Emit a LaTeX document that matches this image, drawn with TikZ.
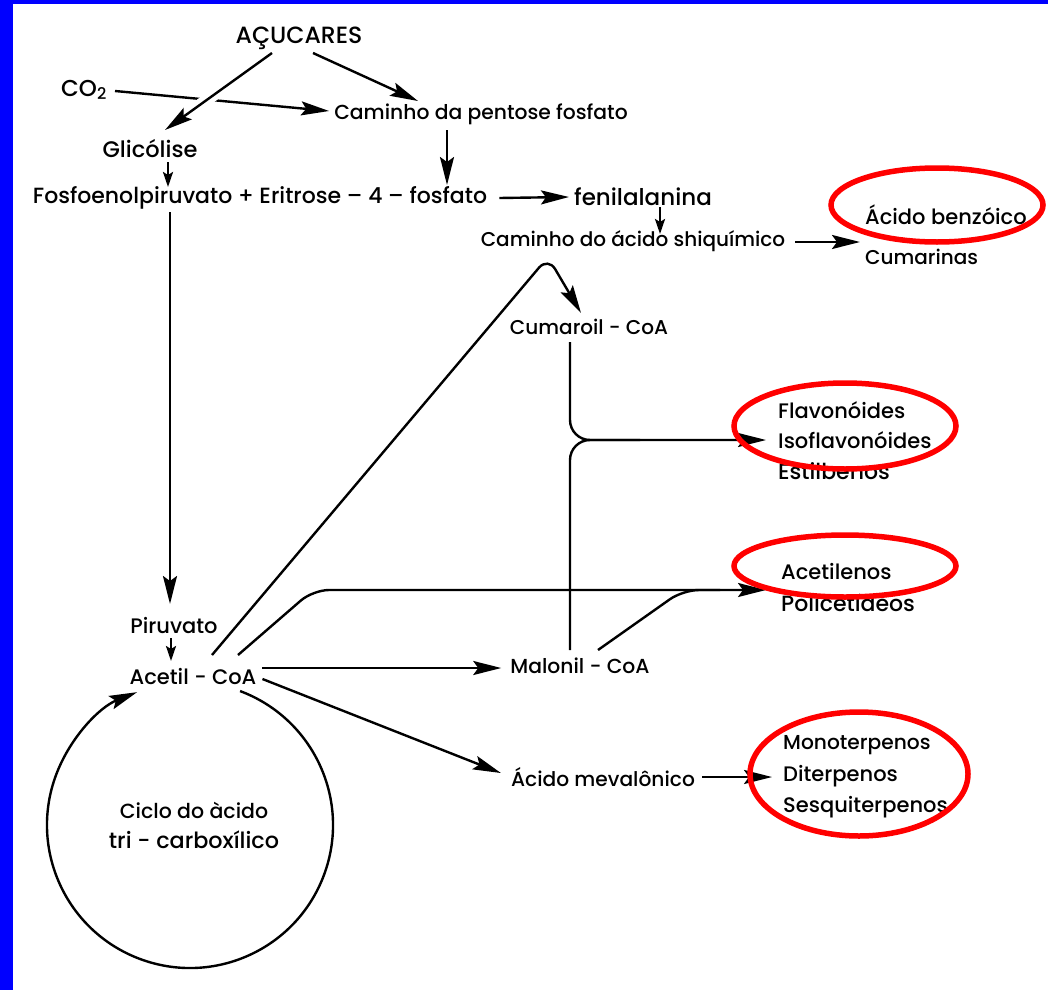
\documentclass[tikz,border=0pt]{standalone}
\usepackage{fontspec}
\setmainfont{Poppins}[UprightFont={* Medium}]
\usetikzlibrary{arrows.meta,calc}
\tikzset{
  lab/.style={font=\fontsize{21}{24}\selectfont, inner sep=0pt, text=black},
  fsz/.style={font=\fontsize{#1}{#1}\selectfont},
  ln/.style={draw=black, line width=2.4pt},
  arr/.style={ln, -{Stealth[length=28pt,width=14pt,inset=5pt]}},
  sarr/.style={ln, -{Stealth[length=15pt,width=10pt,inset=3pt]}},
  ring/.style={draw=red, line width=5.5pt},
}
\begin{document}
\begin{tikzpicture}[x=1pt,y=-1pt]
\useasboundingbox (0,0) rectangle (1048,990);
\fill[white] (0,0) rectangle (1048,990);
\fill[blue] (0,0) rectangle (13,990);
\fill[blue] (0,0) rectangle (1048,4);

% nodes
\node[lab,fsz=23.5] (acu) at (299,38) {AÇUCARES};
\node[lab,fsz=23] (co2) at (84,90) {CO\textsubscript{2}};
\node[lab,fsz=20.3] (pent) at (481,114) {Caminho da pentose fosfato};
\node[lab,fsz=22.5] (glic) at (150,149) {Glicólise};
\node[lab,fsz=22] (fosfo) at (260,198) {Fosfoenolpiruvato + Eritrose – 4 – fosfato};
\node[lab,fsz=23] (fenil) at (643,197) {fenilalanina};
\node[lab,fsz=20] (shiq) at (633,241) {Caminho do ácido shiquímico};
\node[lab,anchor=west] (benz) at (865,215) {Ácido benzóico};
\node[lab,fsz=20,anchor=west] (cum) at (865,257) {Cumarinas};
\node[lab,fsz=20] (cumar) at (589,327) {Cumaroil - CoA};
\node[lab,anchor=west] (flav) at (778,410) {Flavonóides};
\node[lab,anchor=west] (iso) at (778,440) {Isoflavonóides};
\node[lab,fsz=22,anchor=west] (est) at (778,471) {Estilbenos};
\node[lab,anchor=west] (acet) at (781,572) {Acetilenos};
\node[lab,fsz=22,anchor=west] (poli) at (781,603) {Policetídeos};
\node[lab] (pir) at (174,625) {Piruvato};
\node[lab] (acoa) at (193,676) {Acetil - CoA};
\node[lab,fsz=20.3] (mcoa) at (580,666) {Malonil - CoA};
\node[lab,fsz=20.2] (mev) at (603,777) {Ácido mevalônico};
\node[lab,fsz=20.2,anchor=west] (mono) at (783,745) {Monoterpenos};
\node[lab,anchor=west] (dit) at (783,776) {Diterpenos};
\node[lab,anchor=west] (ses) at (783,807) {Sesquiterpenos};
\node[lab,fsz=20.5] (cic1) at (194,810) {Ciclo do àcido};
\node[lab,fsz=22.3] (cic2) at (194,840) {tri - carboxílico};
\coordinate (cyc) at (190,825);

% connectors
\coordinate (a1) at ($(acu)+(-27,15)$);
\coordinate (g1) at ($(glic)+(15,-19)$);
\draw[arr] ($(co2.east)+(8,1)$) -- ($(pent.west)+(-5,-3)$);
\draw[white, line width=12pt] ($(a1)!0.5!(g1)$) -- ($(a1)!0.7!(g1)$);
\draw[arr] (a1) -- (g1);
\draw[arr] ($(acu)+(14,15)$) -- ($(pent)+(-63,-13)$);
\draw[sarr] ($(glic)+(18,13)$) -- ($(fosfo)+(-92,-11)$);
\draw[arr] ($(pent)+(-34,16)$) -- ($(fosfo)+(187,-13)$);
\draw[arr] ($(fosfo.east)+(12,0)$) -- ($(fenil.west)+(-5,0)$);
\draw[sarr] ($(fenil)+(17,10)$) -- ($(shiq)+(27,-7)$);
\draw[arr] ($(shiq.east)+(10,1)$) -- ($(cum.west)+(-5,-15)$);
\draw[arr] ($(fosfo)+(-90,14)$) -- ($(pir)+(-4,-21)$);
\draw[sarr] ($(pir)+(-3,13)$) -- ($(acoa)+(-22,-15)$);
\draw[arr, rounded corners=14pt] ($(acoa)+(19,-21)$) -- (548,257) -- ($(cumar)+(-8,-14)$);
\draw[arr, rounded corners=20pt] ($(cumar)+(-19,15)$) -- (570,440) -- ($(iso.west)+(-12,0)$);
\draw[ln, rounded corners=20pt] ($(mcoa)+(-10,-16)$) -- (570,440) -- (640,440);
\draw[arr, rounded corners=16pt] ($(acoa)+(45,-21)$) -- (313,590) -- ($(acet.west)+(-15,18)$);
\draw[ln, rounded corners=16pt] ($(mcoa)+(18,-16)$) -- (683,590) -- (720,590);
\draw[arr] ($(acoa.east)+(6,-8)$) -- ($(mcoa.west)+(-9,2)$);
\draw[arr] ($(acoa.east)+(6,3)$) -- ($(mev.west)+(-10,-4)$);
\draw[arr] ($(mev.east)+(7,0)$) -- ($(dit.west)+(-11,1)$);
\draw[arr] (cyc) ++(-69.5:143) arc[start angle=-69.5, end angle=248.3, radius=143];

% red marks
\draw[ring] (937,205) ellipse[x radius=106, y radius=37];
\draw[ring] (845,426) ellipse[x radius=111, y radius=43];
\draw[ring] (845,566) ellipse[x radius=111, y radius=31];
\draw[ring] (859,774) ellipse[x radius=109, y radius=62];
\end{tikzpicture}
\end{document}
